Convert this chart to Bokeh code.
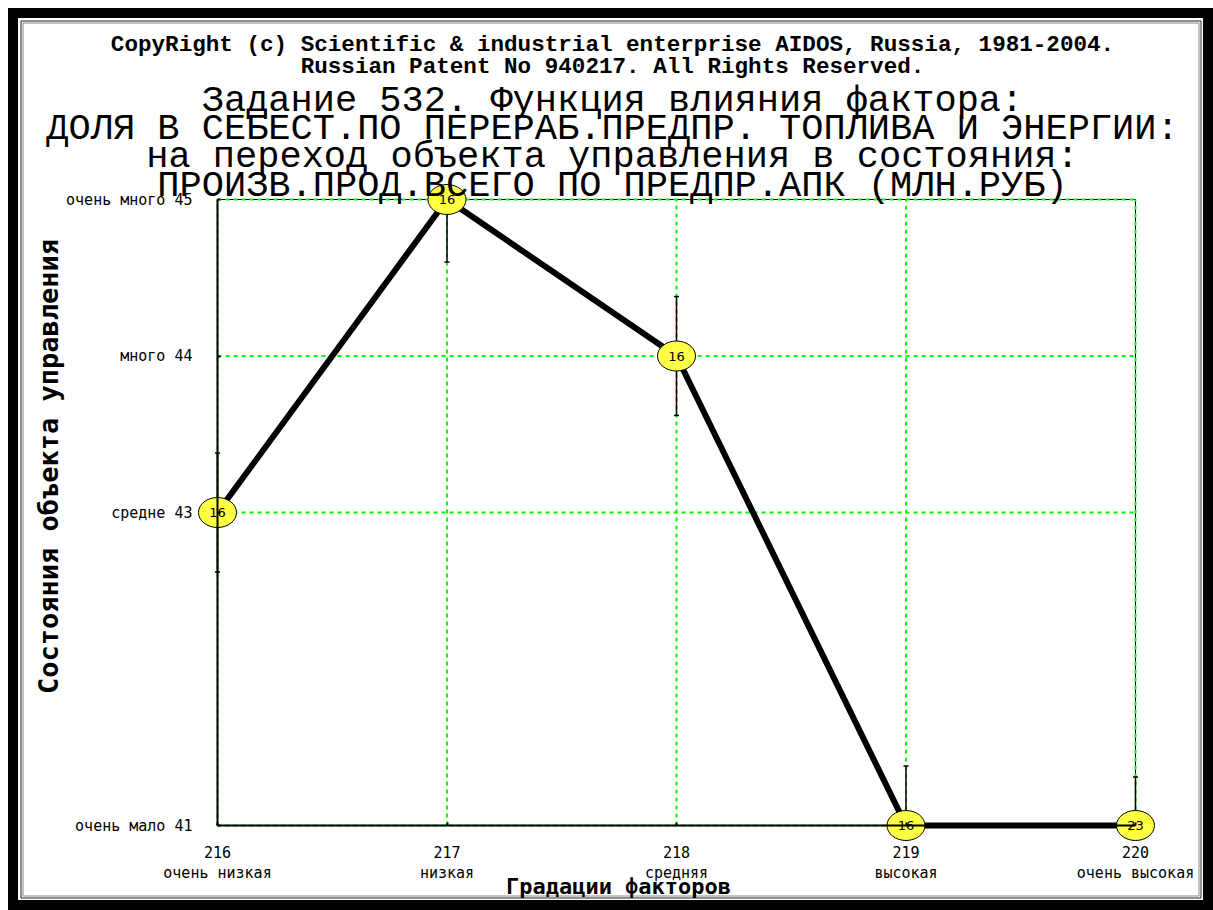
import numpy as np
from bokeh.plotting import figure
from bokeh.models import Range1d, FixedTicker, Label, LinearAxis
from bokeh.embed import file_html
from bokeh.resources import INLINE
from bokeh.core.properties import value

# ---------------- data ----------------
x_grad = [216, 217, 218, 219, 220]
x_names = ["очень низкая", "низкая", "средняя", "высокая", "очень высокая"]
y_state = [43, 45, 44, 41, 41]
counts = [16, 16, 16, 16, 23]
err = [0.38, 0.40, 0.38, 0.38, 0.31]
y_ticks = [41, 43, 44, 45]
y_tick_names = ["очень мало 41", "средне 43", "много 44", "очень много 45"]

title_lines_small = [
    "CopyRight (c) Scientific & industrial enterprise AIDOS, Russia, 1981-2004.",
    "Russian Patent No 940217. All Rights Reserved.",
]
title_lines_big = [
    "Задание 532. Функция влияния фактора:",
    "ДОЛЯ В СЕБЕСТ.ПО ПЕРЕРАБ.ПРЕДПР. ТОПЛИВА И ЭНЕРГИИ:",
    "на переход объекта управления в состояния:",
    "ПРОИЗВ.ПРОД.ВСЕГО ПО ПРЕДПР.АПК (МЛН.РУБ)",
]
x_title = "Градации факторов"
y_title = "Состояния объекта управления"

# ---------------- layout helpers (image pixels -> data) ----------------
PX_X = 229.5   # px per x unit
PX_Y = 156.5   # px per y unit
X0_PX, Y0_PX = 217, 199  # image px of (216, 45)
MARGIN = 8
BORDER = 10
ORG = MARGIN + BORDER
W, H = 1213 - MARGIN, 910 - MARGIN   # host box (border-box); canvas is W x H at ORG


def px2x(px):
    return x_grad[0] + (px - X0_PX) / PX_X


def px2y(py):
    return y_ticks[-1] - (py - Y0_PX) / PX_Y


x_range = Range1d(px2x(ORG), px2x(ORG + W))
y_range = Range1d(px2y(ORG + H), px2y(ORG))

p = figure(width=W, height=H, x_range=x_range, y_range=y_range,
           output_backend="svg", toolbar_location=None,
           x_axis_location=None, y_axis_location=None,
           min_border=0, outline_line_color=None,
           background_fill_color="white", border_fill_color="white")
p.styles = {"border": f"{BORDER}px solid black",
            "margin": f"{MARGIN}px 0px 0px {MARGIN}px"}
p.grid.visible = False

# inner double frame lines
p.quad(left=[px2x(20.5)], right=[px2x(1200.5)], top=[px2y(20.5)], bottom=[px2y(897.5)],
       fill_color=None, line_color="#222222", line_width=1)
p.quad(left=[px2x(22.5)], right=[px2x(1198.5)], top=[px2y(22.5)], bottom=[px2y(895.5)],
       fill_color=None, line_color="#888888", line_width=1)

xa, xb = x_grad[0], x_grad[-1]
ya, yb = y_ticks[0], y_ticks[-1]

# axes (fixed at the plot box edges)
xaxis = LinearAxis(fixed_location=ya, ticker=FixedTicker(ticks=x_grad),
                   major_label_overrides={v: f"{v}\n{n}" for v, n in zip(x_grad, x_names)},
                   bounds=(xa, xb))
yaxis = LinearAxis(fixed_location=xa, ticker=FixedTicker(ticks=y_ticks),
                   major_label_overrides={v: n for v, n in zip(y_ticks, y_tick_names)},
                   bounds=(ya, yb))
for ax in (xaxis, yaxis):
    ax.axis_line_color = "black"
    ax.axis_line_width = 2
    ax.major_tick_line_color = "black"
    ax.major_tick_line_width = 2
    ax.major_tick_in = 3
    ax.major_tick_out = 0
    ax.minor_tick_line_color = None
    ax.major_label_text_font = "DejaVu Sans Mono"
    ax.major_label_text_font_size = "15px"
    ax.major_label_text_color = "black"
    ax.major_label_text_line_height = 1.12
xaxis.major_label_standoff = 18
yaxis.major_label_standoff = 25
p.add_layout(xaxis, "below")
p.add_layout(yaxis, "left")

# plot box top/right
p.segment(x0=[xa, xb], y0=[yb, ya], x1=[xb, xb], y1=[yb, yb], line_color="black", line_width=1)

# grid
p.segment(x0=x_grad, y0=[ya] * len(x_grad), x1=x_grad, y1=[yb] * len(x_grad),
          line_color="#00ff00", line_width=2, line_dash="4 4")
p.segment(x0=[xa] * len(y_ticks), y0=y_ticks, x1=[xb] * len(y_ticks), y1=y_ticks,
          line_color="#00ff00", line_width=2, line_dash="4 4")

# error bars
yv = np.array(y_state, dtype=float)
ev = np.array(err, dtype=float)
lo_raw, hi_raw = yv - ev, yv + ev
lo = np.clip(lo_raw, ya, yb)
hi = np.clip(hi_raw, ya, yb)
p.segment(x0=x_grad, y0=lo, x1=x_grad, y1=hi, line_color="black", line_width=1.5)
cx, cy = [], []
for xx, l, h, lr, hr in zip(x_grad, lo, hi, lo_raw, hi_raw):
    if lr > ya:
        cx.append(xx); cy.append(l)
    if hr < yb:
        cx.append(xx); cy.append(h)
p.scatter(cx, cy, marker="dash", size=5, line_color="black", line_width=1.5)

# main line
p.line(x_grad, y_state, line_color="black", line_width=6, line_join="round")

# markers
p.ellipse(x=x_grad, y=y_state, width=38, height=30, width_units="screen",
          height_units="screen", fill_color="#ffff44", line_color="black", line_width=1)
p.text(x=x_grad, y=y_state, text=[str(c) for c in counts], text_align="center",
       text_baseline="middle", text_font=value("DejaVu Sans"), text_font_size="13px",
       text_color="black")

# titles
small_base = [44, 66]
for t, b in zip(title_lines_small, small_base):
    p.add_layout(Label(x=px2x(612), y=px2y(b), text=t, text_align="center",
                       text_baseline="alphabetic", text_font="Liberation Mono",
                       text_font_style="bold",
                       text_font_size="22.6px", text_color="black"))
big_base = [100, 128, 156, 185]
for t, b in zip(title_lines_big, big_base):
    p.add_layout(Label(x=px2x(612), y=px2y(b), text=t, text_align="center",
                       text_baseline="alphabetic", text_font="Liberation Mono",
                       text_font_size="37px", text_color="black"))

p.add_layout(Label(x=px2x(618), y=px2y(886), text=x_title, text_align="center",
                   text_baseline="middle", text_font="DejaVu Sans Mono",
                   text_font_style="bold", text_font_size="22px", text_color="black"))
p.add_layout(Label(x=px2x(48), y=px2y(466), text=y_title, text_align="center",
                   text_baseline="middle", angle=np.pi / 2, text_font="DejaVu Sans Mono",
                   text_font_style="bold", text_font_size="27px", text_color="black"))

open("out.html", "w").write(file_html(p, INLINE))
